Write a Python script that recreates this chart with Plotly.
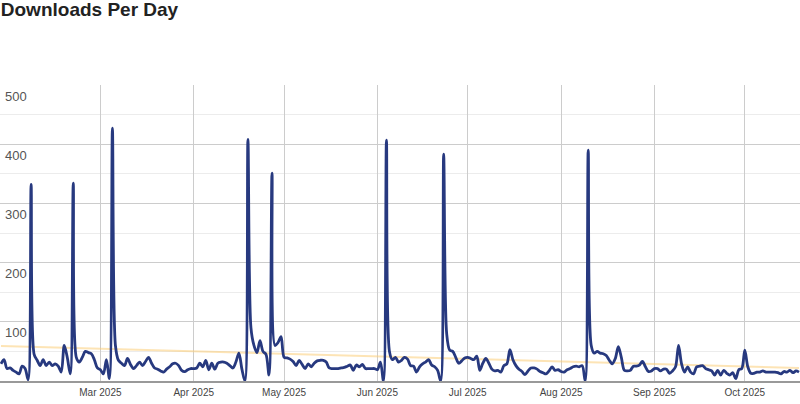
import pandas as pd
import plotly.graph_objects as go

# daily downloads, one value per day starting 2025-01-27
start_date = "2025-01-27"
downloads = [
    29, 36, 21, 22, 18, 15, 12, 25, 21, 2,
    332, 45, 35, 26, 36, 26, 32, 26, 29, 25,
    15, 60, 40, 12, 334, 40, 32, 40, 50, 48,
    46, 36, 22, 19, 12, 36, 4, 427, 60, 35,
    30, 26, 38, 28, 21, 26, 32, 26, 33, 40,
    30, 22, 20, 17, 15, 20, 24, 29, 30, 26,
    18, 16, 19, 21, 21, 22, 30, 24, 35, 19,
    30, 20, 30, 32, 32, 30, 26, 22, 32, 47,
    20, 0, 408, 90, 60, 48, 68, 50, 45, 10,
    351, 60, 65, 75, 40, 39, 37, 33, 26, 35,
    28, 21, 29, 24, 30, 34, 35, 35, 32, 22,
    21, 21, 21, 22, 23, 25, 27, 18, 27, 24,
    28, 21, 21, 21, 21, 19, 32, 0, 407, 50,
    36, 40, 32, 35, 40, 37, 26, 25, 15, 24,
    29, 32, 36, 27, 24, 18, 0, 383, 80, 52,
    50, 40, 30, 34, 39, 40, 38, 36, 42, 18,
    30, 38, 30, 20, 17, 18, 15, 26, 29, 53,
    36, 26, 20, 16, 11, 17, 22, 22, 20, 16,
    14, 12, 17, 24, 18, 19, 16, 15, 19, 21,
    24, 25, 24, 26, 0, 390, 60, 47, 50, 47,
    46, 43, 35, 29, 38, 58, 40, 18, 17, 18,
    25, 25, 27, 33, 24, 16, 17, 21, 21, 17,
    20, 20, 13, 17, 24, 60, 29, 15, 24, 15,
    12, 24, 25, 26, 21, 19, 17, 10, 18, 10,
    18, 13, 10, 14, 4, 19, 21, 52, 24, 13,
    13, 15, 15, 17, 15, 15, 15, 15, 14, 12,
    16, 15, 18, 14, 17, 15,
]
dates = pd.date_range(start_date, periods=len(downloads), freq="D")

# linear trend, first and last day
trend_dates = [dates[0], dates[-1]]
trend_values = [59, 22]

month_ticks = ["2025-02-01", "2025-03-01", "2025-04-01", "2025-05-01", "2025-06-01",
               "2025-07-01", "2025-08-01", "2025-09-01", "2025-10-01"]
month_labels = ["", "Mar 2025", "Apr 2025", "May 2025", "Jun 2025",
                "Jul 2025", "Aug 2025", "Sep 2025", "Oct 2025"]
y_ticks = [100, 200, 300, 400, 500]

fig = go.Figure()

fig.add_trace(go.Scatter(x=trend_dates, y=trend_values, mode="lines",
                         line=dict(color="rgba(252, 205, 120, 0.55)", width=2),
                         hoverinfo="skip", showlegend=False))

fig.add_trace(go.Scatter(x=dates, y=downloads, mode="lines",
                         line=dict(color="#27397f", width=2.8, shape="spline", smoothing=0.9),
                         name="Downloads", showlegend=False))

fig.update_layout(
    width=800, height=404,
    margin=dict(l=0, r=0, t=85, b=23),
    paper_bgcolor="white", plot_bgcolor="white",
    font=dict(family="Liberation Sans, Arial, sans-serif", color="#444"),
    title=dict(text="<b>Downloads Per Day</b>", x=0.001, xanchor="left",
               y=1, yanchor="top", yref="container", pad=dict(t=3),
               font=dict(size=19, color="#222")),
    xaxis=dict(
        type="date",
        range=["2025-01-26 16:00", "2025-10-19 08:00"],
        tickvals=month_ticks, ticktext=month_labels,
        showgrid=True, gridcolor="#cccccc", gridwidth=1,
        showline=True, linecolor="#999999", linewidth=2,
        ticks="", zeroline=False, ticklabelstandoff=1,
        tickfont=dict(size=10, color="#444"),
    ),
    yaxis=dict(
        range=[0, 500],
        tickvals=y_ticks,
        showgrid=True, gridcolor="#cccccc", gridwidth=1,
        minor=dict(dtick=50, tick0=0, showgrid=True, gridcolor="#ececec"),
        ticklabelposition="inside", ticklabelshift=11, ticklabelstandoff=2,
        ticks="", zeroline=False, showline=False,
        tickfont=dict(size=13, color="#555"),
    ),
)

# page margin off so the chart sits at the window's corner
fig.write_html("out.html", config={"displayModeBar": False},
               post_script="document.body.style.margin='0';")
